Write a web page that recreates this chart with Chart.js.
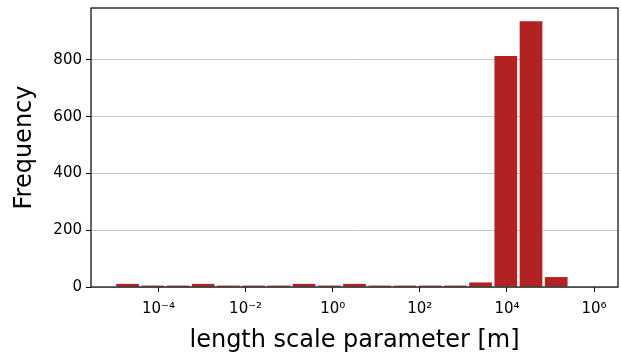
<!DOCTYPE html>
<html>
<head>
<meta charset="utf-8">
<script src="https://cdn.jsdelivr.net/npm/chart.js@4"></script>
<style>
  html, body { margin: 0; padding: 0; background: #ffffff; }
  canvas { display: block; }
</style>
</head>
<body>
<canvas id="hist" width="621" height="356"></canvas>
<script>
// Histogram of the fitted length scale parameter, binned in log10 space.
// Bin edges are exponents of 10 (19 bins from 1e-5 to 1e6).
const binEdgesLog10 = [-5.0, -4.4211, -3.8421, -3.2632, -2.6842, -2.1053, -1.5263,
  -0.9474, -0.3684, 0.2105, 0.7895, 1.3684, 1.9474, 2.5263, 3.1053, 3.6842,
  4.2632, 4.8421, 5.4211, 6.0];
const binCounts = [11, 5, 5, 11, 5, 5, 5, 11, 5, 11, 5, 5, 5, 5, 16, 814, 936, 35, 0];

const xTickExponents = [-4, -2, 0, 2, 4, 6];
const xTickLabels = ['10\u207B\u2074', '10\u207B\u00B2', '10\u2070', '10\u00B2', '10\u2074', '10\u2076'];
const yTickValues = [0, 200, 400, 600, 800];

const barPoints = binCounts.map((count, i) => ({
  x: (binEdgesLog10[i] + binEdgesLog10[i + 1]) / 2,
  y: count
}));

const FONT = 'DejaVu Sans';

// Box around the plotting area, drawn above the bars.
const frame = {
  id: 'frame',
  afterDatasetsDraw(chart) {
    const { ctx, chartArea: a } = chart;
    ctx.save();
    ctx.strokeStyle = '#000000';
    ctx.lineWidth = 1.2;
    ctx.strokeRect(a.left, a.top, a.right - a.left, a.bottom - a.top);
    ctx.restore();
  }
};

new Chart(document.getElementById('hist'), {
  type: 'bar',
  data: {
    datasets: [{
      data: barPoints,
      backgroundColor: '#b22222',
      borderWidth: 0,
      categoryPercentage: 1.0,
      barPercentage: 0.9
    }]
  },
  options: {
    responsive: false,
    animation: false,
    devicePixelRatio: 1,
    layout: { padding: { left: 0, right: 3, top: 8, bottom: 0 } },
    plugins: { legend: { display: false }, tooltip: { enabled: false } },
    scales: {
      x: {
        type: 'linear',
        offset: false,
        min: -5.55,
        max: 6.55,
        afterBuildTicks(scale) { scale.ticks = xTickExponents.map(v => ({ value: v })); },
        afterFit(scale) { scale.height = 69; scale.paddingLeft = 0; scale.paddingRight = 0; },
        ticks: {
          autoSkip: false,
          maxRotation: 0,
          padding: 8,
          color: '#000000',
          font: { family: FONT, size: 15 },
          callback: (v) => xTickLabels[xTickExponents.indexOf(v)]
        },
        grid: { offset: false, drawOnChartArea: false, drawTicks: true, tickLength: 5, tickColor: '#000000', tickWidth: 1 },
        border: { display: false },
        title: {
          display: true,
          text: 'length scale parameter [m]',
          color: '#000000',
          font: { family: FONT, size: 24 },
          padding: { top: 0, bottom: 1 }
        }
      },
      y: {
        type: 'linear',
        min: 0,
        max: 983,
        z: 1,
        afterBuildTicks(scale) { scale.ticks = yTickValues.map(v => ({ value: v })); },
        afterFit(scale) { scale.width = 91; scale.paddingTop = 0; scale.paddingBottom = 0; },
        ticks: {
          padding: 4,
          color: '#000000',
          font: { family: FONT, size: 15 }
        },
        grid: {
          color: 'rgba(160,160,160,0.6)',
          lineWidth: 1,
          drawTicks: true,
          tickLength: 5,
          tickColor: '#000000',
          tickWidth: 1
        },
        border: { display: false },
        title: {
          display: true,
          text: 'Frequency',
          color: '#000000',
          font: { family: FONT, size: 24 },
          padding: { top: 10, bottom: 0 }
        }
      }
    }
  },
  plugins: [frame]
});
</script>
</body>
</html>
